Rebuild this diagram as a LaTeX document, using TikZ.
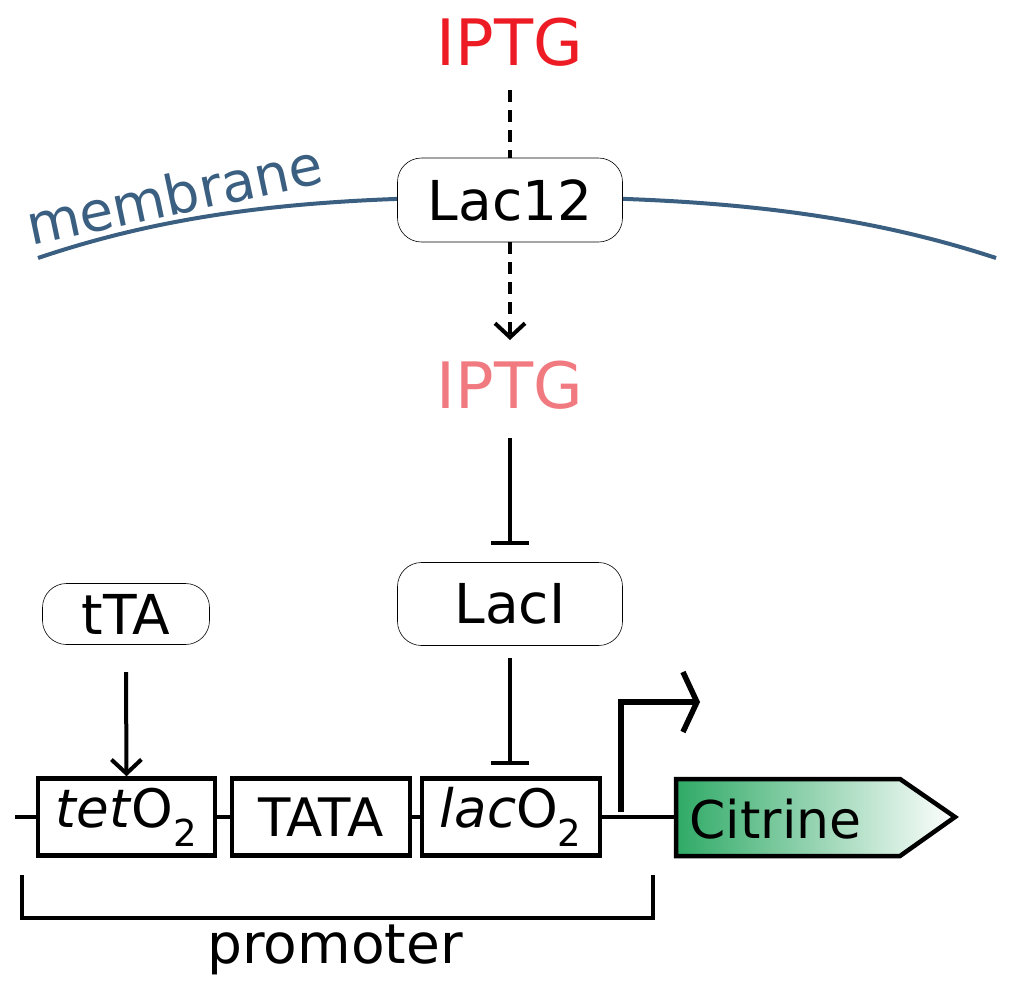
\documentclass[tikz,border=0pt]{standalone}
\usepackage{fontspec}
\setmainfont{DejaVu Sans}
\usetikzlibrary{arrows.meta}
\definecolor{memb}{HTML}{3A5F80}
\definecolor{iptgred}{HTML}{ED1C24}
\definecolor{iptglight}{HTML}{F07A80}
\definecolor{citgreen}{HTML}{2FAA66}
\begin{document}
\begin{tikzpicture}[x=1pt,y=-1pt,
  prot/.style={draw,line width=0.6pt,rounded corners=24pt,font=\fontsize{55}{60}\selectfont},
  part/.style={draw,line width=4.5pt,minimum height=77pt,inner sep=0pt,font=\fontsize{53}{58}\selectfont},
  thick line/.style={line width=4.5pt},
  inh/.style={line width=4pt,-{Bar[width=38pt,line width=4pt]}},
  act/.style={line width=4pt,-{Straight Barb[length=14pt,width=30pt,line width=4pt]}}]
\useasboundingbox (0,0) rectangle (1010,994);
\node[text=iptgred,font=\fontsize{64}{70}\selectfont] (iptg1) at (510,42) {IPTG};
\draw[memb,line width=4pt] (38,258) .. controls (180,210) and (320,197) .. (510,197) .. controls (700,197) and (850,210) .. (996,258);
\node[memb,rotate=12,font=\fontsize{55}{60}\selectfont] (mlab) at (174,194) {membrane};
\node[prot,fill=white,minimum width=225pt,minimum height=84pt] (lac12) at (510,200) {Lac12};
\draw[line width=4pt,dash pattern=on 12pt off 8pt] (510,90) -- (lac12.north);
\node[text=iptglight,font=\fontsize{64}{70}\selectfont] (iptg2) at (510,385) {IPTG};
\draw[line width=4pt,dash pattern=on 12pt off 8pt,-{Straight Barb[length=14pt,width=30pt,line width=4pt]}] (lac12.south) -- (510,340);
\node[prot,minimum width=225pt,minimum height=83pt] (laci) at (510,604) {LacI};
\coordinate (i1) at (510,438);
\draw[inh] (i1) -- (510,545);
\node[prot,minimum width=167pt,minimum height=61pt] (tta) at (126,614) {tTA};
\node[part,minimum width=177pt] (tet) at (126.5,817) {\textit{tet}O\textsubscript{2}};
\node[part,minimum width=178pt] (tata) at (321,817) {TATA};
\node[part,minimum width=178pt] (lac) at (511,817) {\textit{lac}O\textsubscript{2}};
\draw[inh] (laci.south) ++(0,12) -- (510,765);
\draw[act] (126,672) -- (tet.north);
\coordinate (l0) at (15,817);
\draw[thick line] (l0) -- (tet.west);
\draw[thick line] (tet.east) -- (tata.west);
\draw[thick line] (tata.east) -- (lac.west);
\coordinate (pa) at (700,702);
\draw[thick line] (lac.east) -- (676,817);
\draw[line width=5.5pt,-{Straight Barb[length=14pt,width=60pt,line width=5.5pt]}] (621,812) -- (621,702) -- (pa);
\shade[left color=citgreen,right color=white] (676,779) -- (900,779) -- (955,817) -- (900,856) -- (676,856) -- cycle;
\draw[line width=4.5pt,line join=miter] (676,779) -- (900,779) -- (955,817) -- (900,856) -- (676,856) -- cycle;
\node[anchor=west,font=\fontsize{52}{58}\selectfont] (cit) at (686,819) {Citrine};
\draw[line width=4pt] (22,875) -- (22,918) -- (653,918) -- (653,875);
\node[font=\fontsize{55}{60}\selectfont] (prom) at (335,950) {promoter};
\end{tikzpicture}
\end{document}
